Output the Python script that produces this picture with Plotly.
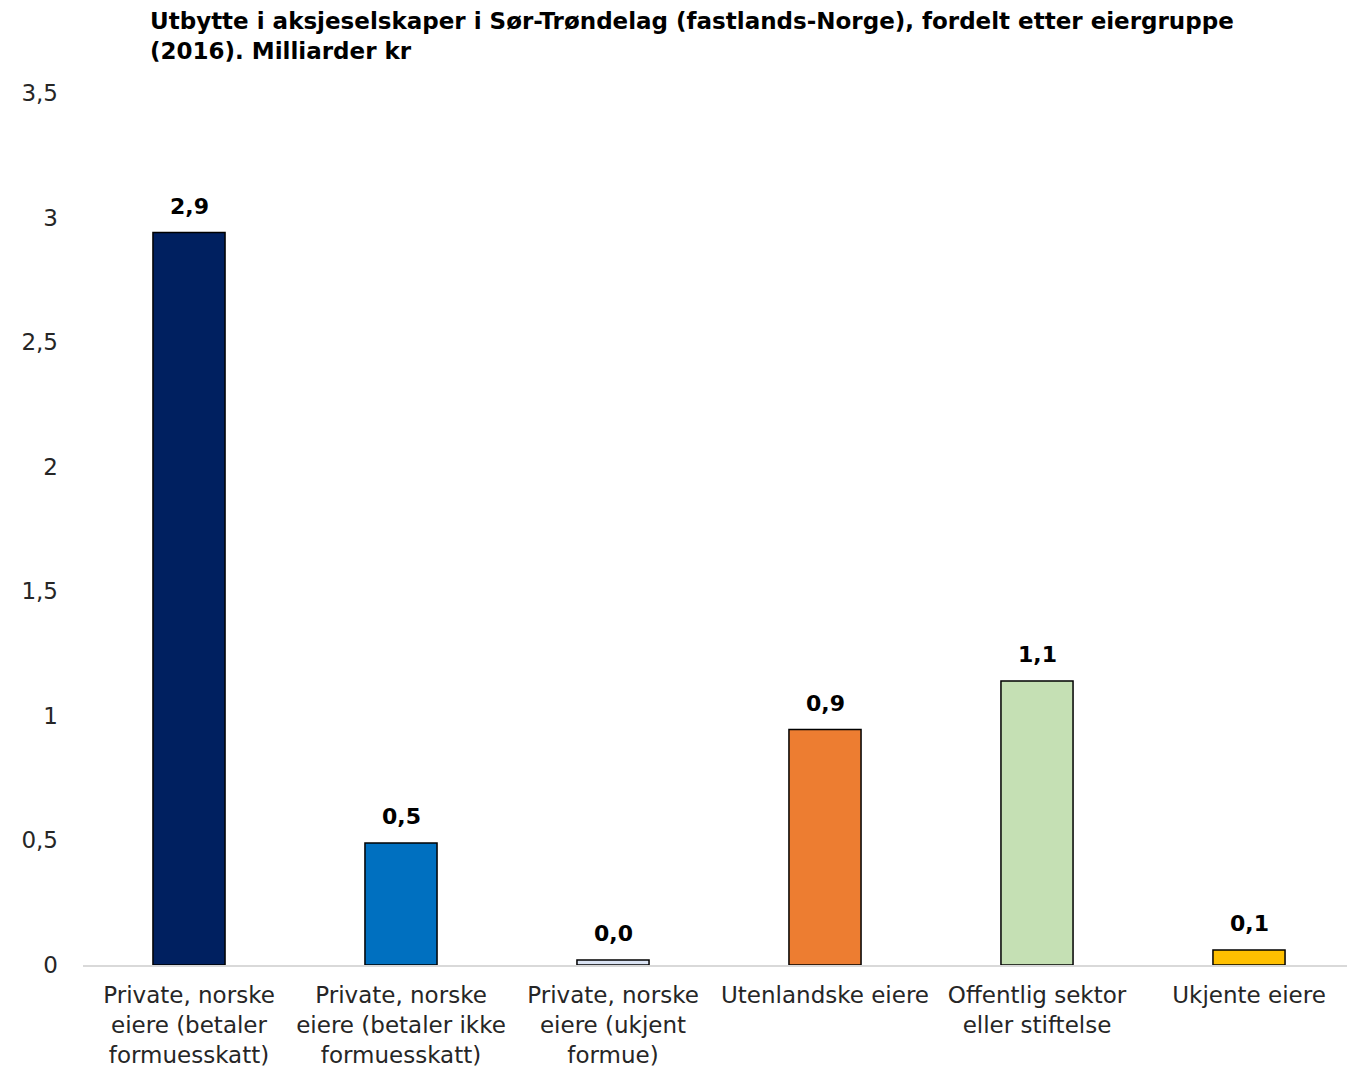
import plotly.graph_objects as go

categories = [
    "Private, norske<br>eiere (betaler<br>formuesskatt)",
    "Private, norske<br>eiere (betaler ikke<br>formuesskatt)",
    "Private, norske<br>eiere (ukjent<br>formue)",
    "Utenlandske eiere",
    "Offentlig sektor<br>eller stiftelse",
    "Ukjente eiere",
]
values = [2.94, 0.49, 0.02, 0.945, 1.14, 0.06]
labels = ["2,9", "0,5", "0,0", "0,9", "1,1", "0,1"]
colors = ["#002060", "#0070C0", "#DAE3F3", "#ED7D31", "#C5E0B4", "#FFC000"]

tick_vals = [0, 0.5, 1, 1.5, 2, 2.5, 3, 3.5]
tick_text = ["0", "0,5", "1", "1,5", "2", "2,5", "3", "3,5"]

FONT = "DejaVu Sans"

fig = go.Figure(go.Bar(
    x=categories,
    y=values,
    marker=dict(color=colors, line=dict(color="black", width=1.5)),
    width=0.34,
    cliponaxis=False,
))

for c, v, t in zip(categories, values, labels):
    fig.add_annotation(
        x=c, y=v, text=t, showarrow=False, yanchor="bottom", yshift=12,
        font=dict(family=FONT, size=22, color="black", weight="bold"),
    )

fig.add_annotation(
    text="Utbytte i aksjeselskaper i Sør-Trøndelag (fastlands-Norge), fordelt etter eiergruppe<br>(2016). Milliarder kr",
    xref="paper", yref="paper", x=(140 - 75) / 1272, y=1, yanchor="bottom", xanchor="left",
    yshift=27, align="left", showarrow=False,
    font=dict(family=FONT, size=23, color="black", weight="bold"),
)

fig.update_layout(
    width=1347, height=1059,
    margin=dict(l=75, r=0, t=85, b=102),
    plot_bgcolor="white", paper_bgcolor="white",
    font=dict(family=FONT, color="#262626"),
    showlegend=False,
)
fig.update_yaxes(
    range=[0, 3.5], tickvals=tick_vals, ticktext=tick_text,
    showgrid=False, zeroline=False, showline=False,
    tickfont=dict(family=FONT, size=23, color="#262626"),
    ticklabelstandoff=24, automargin=False,
)
fig.update_xaxes(
    showline=True, linecolor="#D9D9D9", linewidth=1.5,
    tickfont=dict(family=FONT, size=23, color="#262626"),
    ticks="", ticklabelstandoff=9, automargin=False,
)

fig.write_html("out.html")
